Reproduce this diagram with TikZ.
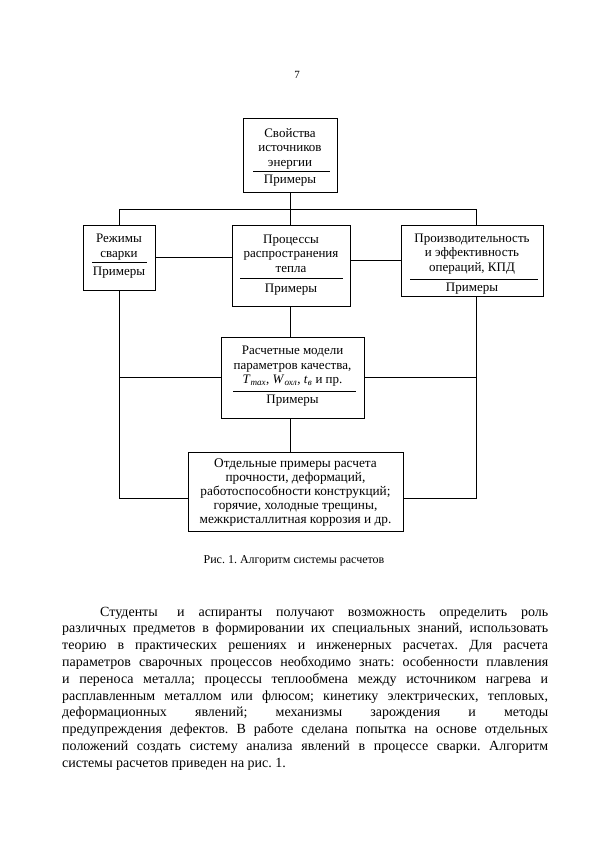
\documentclass[tikz,border=0pt]{standalone}
\usepackage{fontspec}
\setmainfont{Liberation Serif}
\frenchspacing
\newcommand\bxf{\fontsize{13}{14.5}\selectfont}
\newcommand\bodyf{\fontsize{14}{17}\selectfont}
\begin{document}
\begin{tikzpicture}[x=1pt,y=-1pt,
  frame/.style={draw, line width=0.7pt, inner sep=0pt},
  conn/.style={line width=0.7pt},
  sepline/.style={line width=0.9pt},
  lbl/.style={inner sep=0pt, align=center, font=\bxf},
  bodyline/.style={anchor=base west, inner sep=0pt, font=\bodyf}]
\fill[white] (0,0) rectangle (600,848);
\useasboundingbox (0,0) rectangle (600,848);

\node[inner sep=0pt, font=\fontsize{11}{13}\selectfont] (pg) at (297,75) {7};

% box 1
\node[frame, minimum width=94pt, minimum height=74pt] (b1) at (290,155) {};
\node[lbl] (b1t) at (290,148.5) {Свойства\\источников\\энергии};
\draw[sepline] (253,171) -- (330,171);
\node[lbl] (b1e) at (290,181) {Примеры};

% box R
\node[frame, minimum width=72pt, minimum height=65pt] (rb) at (119,257.5) {};
\node[lbl] (rbt) at (119,247) {Режимы\\сварки};
\draw[sepline] (92,262) -- (147,262);
\node[lbl] (rbe) at (119,273) {Примеры};

% box P
\node[frame, minimum width=118pt, minimum height=81pt] (pb) at (291,265.5) {};
\node[lbl] (pbt) at (291,253.5) {Процессы\\распространения\\тепла};
\draw[sepline] (240,278) -- (343,278);
\node[lbl] (pbe) at (291,290) {Примеры};

% box E
\node[frame, minimum width=142pt, minimum height=71pt] (eb) at (472,260.5) {};
\node[lbl] (ebt) at (472,254) {Производительность\\и эффективность\\операций, КПД};
\draw[sepline] (410,279) -- (538,279);
\node[lbl] (ebe) at (472,289) {Примеры};

% box M
\node[frame, minimum width=143pt, minimum height=81pt] (mb) at (292.5,377.5) {};
\node[lbl] (mbt) at (292.5,366.5) {Расчетные модели\\параметров качества,\\\textit{T}\textsubscript{\textit{max}}, \textit{W}\textsubscript{\textit{охл}}, \textit{t}\textsubscript{\textit{в}} и пр.};
\draw[sepline] (233,391) -- (356,391);
\node[lbl] (mbe) at (292.5,401) {Примеры};

% box F
\node[frame, minimum width=215pt, minimum height=79pt] (fb) at (295.5,491.5) {};
\node[lbl, font=\fontsize{13.3}{14}\selectfont] (fbt) at (295.5,493) {Отдельные примеры расчета\\прочности, деформаций,\\работоспособности конструкций;\\горячие, холодные трещины,\\межкристаллитная коррозия и др.};

% connectors
\coordinate (busL) at (119,209);
\coordinate (busC) at (290,209);
\coordinate (busR) at (476,209);
\coordinate (lowL) at (119,498);
\coordinate (lowR) at (476,498);
\draw[conn] (b1.south) -- (busC);
\draw[conn] (busL) -- (busR);
\draw[conn] (busL) -- (rb.north);
\draw[conn] (busC) -- (busC |- pb.north);
\draw[conn] (busR) -- (busR |- eb.north);
\draw[conn] (rb.east) -- (rb.east -| pb.west);
\draw[conn] (eb.west) -- (eb.west -| pb.east);
\draw[conn] (pb.south -| busC) -- (mb.north -| busC);
\draw[conn] (mb.south -| busC) -- (fb.north -| busC);
\draw[conn] (rb.south) -- (lowL) -- (fb.west |- lowL);
\draw[conn] (busR |- eb.south) -- (lowR) -- (fb.east |- lowR);
\draw[conn] (mb.west) -- (mb.west -| lowL);
\draw[conn] (mb.east) -- (mb.east -| lowR);

% caption
\node[inner sep=0pt, font=\fontsize{12}{14}\selectfont] (cap) at (294,561) {Рис. 1. Алгоритм системы расчетов};

% body text
\node[bodyline] (l1) at (100,616) {\makebox[448pt][s]{Студенты\hspace{0.4em} и аспиранты получают возможность определить роль}};
\node[bodyline] (l2) at (62,632.8) {\makebox[486pt][s]{различных предметов в формировании их специальных знаний, использовать}};
\node[bodyline] (l3) at (62,649.6) {\makebox[486pt][s]{теорию в практических решениях и инженерных расчетах. Для расчета}};
\node[bodyline] (l4) at (62,666.4) {\makebox[486pt][s]{параметров сварочных процессов необходимо знать: особенности плавления}};
\node[bodyline] (l5) at (62,683.2) {\makebox[486pt][s]{и переноса металла; процессы теплообмена между источником нагрева и}};
\node[bodyline] (l6) at (62,700) {\makebox[486pt][s]{расплавленным металлом или флюсом; кинетику электрических, тепловых,}};
\node[bodyline] (l7) at (62,716.8) {\makebox[486pt][s]{деформационных явлений; механизмы зарождения и методы}};
\node[bodyline] (l8) at (62,733.6) {\makebox[486pt][s]{предупреждения дефектов. В работе сделана попытка на основе отдельных}};
\node[bodyline] (l9) at (62,750.4) {\makebox[486pt][s]{положений создать систему анализа явлений в процессе сварки. Алгоритм}};
\node[bodyline] (l10) at (62,767.2) {системы расчетов приведен на рис. 1.};
\end{tikzpicture}
\end{document}
